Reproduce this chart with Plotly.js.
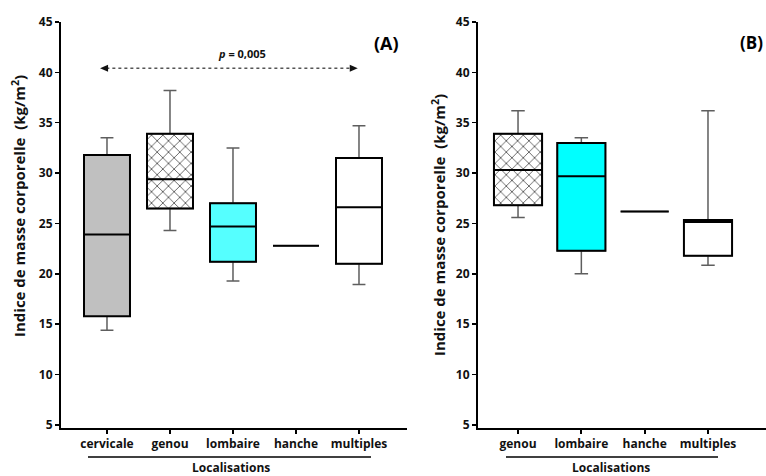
<!DOCTYPE html>
<html>
<head>
<meta charset="utf-8">
<script src="https://cdn.plot.ly/plotly-3.0.1.min.js"></script>
<style>html,body{margin:0;padding:0;background:#fff;}#chart{width:766px;height:476px;}</style>
</head>
<body>
<div id="chart"></div>
<script>
// Panel A data
var catsA = ['cervicale', 'genou', 'lombaire', 'hanche', 'multiples'];
var minA  = [14.4, 24.3, 19.3, 22.8, 18.95];
var q1A   = [15.8, 26.5, 21.2, 22.8, 21.0];
var medA  = [23.9, 29.4, 24.7, 22.8, 26.6];
var q3A   = [31.8, 33.9, 27.0, 22.8, 31.5];
var maxA  = [33.5, 38.2, 32.5, 22.8, 34.7];

// Panel B data
var catsB = ['genou', 'lombaire', 'hanche', 'multiples'];
var minB  = [25.6, 20.0, 26.2, 20.85];
var q1B   = [26.8, 22.3, 26.2, 21.8];
var medB  = [30.3, 29.7, 26.2, 25.15];
var q3B   = [33.9, 33.0, 26.2, 25.35];
var maxB  = [36.2, 33.5, 26.2, 36.2];

// p-value bracket (panel A)
var pText = '<b><i>p</i> = 0,005</b>';
var pFrom = 'cervicale', pTo = 'multiples';
var yTicks = [5, 10, 15, 20, 25, 30, 35, 40, 45];

var fillA = ['#C0C0C0', 'pattern', '#55FFFF', '#FFFFFF', '#FFFFFF'];
var fillB = ['pattern', '#00FFFF', '#FFFFFF', '#FFFFFF'];

var FONT = '"Open Sans", "Noto Sans", sans-serif';
var traces = [];

function addPanel(cats, mn, q1, md, q3, mx, fills, xa, ya, bw) {
  cats.forEach(function (c, i) {
    if (fills[i] === 'pattern') {
      traces.push({
        type: 'bar', x: [c], y: [q3[i] - q1[i]], base: [q1[i]], width: bw,
        xaxis: xa, yaxis: ya, showlegend: false, hoverinfo: 'skip',
        marker: {color: '#FFFFFF', line: {width: 0},
          pattern: {shape: 'x', fgcolor: '#000000', bgcolor: '#FFFFFF', size: 8, solidity: 0.14}}
      });
    }
  });
  cats.forEach(function (c, i) {
    traces.push({
      type: 'box', x: [c], q1: [q1[i]], median: [md[i]], q3: [q3[i]],
      lowerfence: [mn[i]], upperfence: [mx[i]], width: bw, whiskerwidth: 0.28,
      fillcolor: 'rgba(0,0,0,0)', line: {color: '#5e5e5e', width: 1.5},
      xaxis: xa, yaxis: ya, showlegend: false, hoverinfo: 'skip', boxpoints: false
    });
    traces.push({
      type: 'box', x: [c], q1: [q1[i]], median: [md[i]], q3: [q3[i]],
      lowerfence: [q1[i]], upperfence: [q3[i]], width: bw, whiskerwidth: 0,
      fillcolor: fills[i] === 'pattern' ? 'rgba(0,0,0,0)' : fills[i],
      line: {color: '#000000', width: 2},
      xaxis: xa, yaxis: ya, showlegend: false, hoverinfo: 'skip', boxpoints: false
    });
  });
}

addPanel(catsA, minA, q1A, medA, q3A, maxA, fillA, 'x', 'y', 0.73);
addPanel(catsB, minB, q1B, medB, q3B, maxB, fillB, 'x2', 'y2', 0.76);

var W = 766, H = 476;
function px(v) { return v / W; }
function py(v) { return 1 - v / H; }
function b(s) { return '<b>' + s + '</b>'; }

var tickFont = {family: FONT, size: 12, color: '#111'};
var yDom = [py(428), py(22)];

function yAxis(anchor) {
  return {
    domain: yDom, range: [4.7, 45], tickvals: yTicks, ticktext: yTicks.map(function (v) { return b(v); }),
    ticks: 'outside', ticklen: 4, tickwidth: 1.5, tickcolor: '#000', showline: true, linewidth: 2,
    linecolor: '#000', showgrid: false, zeroline: false, tickfont: tickFont, anchor: anchor, fixedrange: true
  };
}
function xAxis(dom, rng, cats, anchor) {
  return {
    domain: dom, range: rng, type: 'category', categoryorder: 'array', categoryarray: cats,
    tickvals: cats, ticktext: cats.map(b),
    ticks: 'outside', ticklen: 4, tickwidth: 2, tickcolor: '#000', showline: true,
    linewidth: 2, linecolor: '#000', showgrid: false, zeroline: false, tickfont: tickFont,
    anchor: anchor, fixedrange: true
  };
}

var iFrom = catsA.indexOf(pFrom) - 0.11, iTo = catsA.indexOf(pTo) - 0.02;
var yArrow = 40.4;
var yArrowPx = 22 + (45 - yArrow) * (406 / 40.3);
var xFromPx = 107 + 63 * iFrom, xToPx = 107 + 63 * iTo;

function tri(tipX, dir) {
  var bx = tipX + dir * 8;
  return 'M' + px(tipX) + ',' + py(yArrowPx) + ' L' + px(bx) + ',' + py(yArrowPx - 3.5) +
         ' L' + px(bx) + ',' + py(yArrowPx + 3.5) + ' Z';
}

var titleTxt = b('Indice de masse corporelle&nbsp;&nbsp;(kg/m<sup>2</sup>)');
var titleFont = {family: FONT, size: 15, color: '#111'};

var layout = {
  width: W, height: H, margin: {l: 0, r: 0, t: 0, b: 0},
  paper_bgcolor: '#fff', plot_bgcolor: 'rgba(0,0,0,0)',
  boxmode: 'overlay', barmode: 'overlay', showlegend: false,
  xaxis: xAxis([px(61), px(407)], [-0.73, 4.762], catsA, 'y'),
  yaxis: yAxis('x'),
  xaxis2: xAxis([px(478), 1], [-0.632, 3.916], catsB, 'y2'),
  yaxis2: yAxis('x2'),
  shapes: [
    {type: 'line', xref: 'x', yref: 'y', x0: iFrom + 0.1, x1: iTo - 0.1, y0: yArrow, y1: yArrow,
     line: {color: '#555', width: 1.5, dash: 'dot'}},
    {type: 'path', xref: 'paper', yref: 'paper', path: tri(xFromPx, 1), fillcolor: '#111', line: {width: 0}},
    {type: 'path', xref: 'paper', yref: 'paper', path: tri(xToPx, -1), fillcolor: '#111', line: {width: 0}},
    {type: 'line', xref: 'paper', yref: 'paper', x0: px(88), x1: px(371), y0: py(457), y1: py(457),
     line: {color: '#000', width: 1.5}},
    {type: 'line', xref: 'paper', yref: 'paper', x0: px(506), x1: px(718), y0: py(457), y1: py(457),
     line: {color: '#000', width: 1.5}}
  ],
  annotations: [
    {xref: 'paper', yref: 'paper', x: px(242), y: py(53), text: pText, showarrow: false,
     xanchor: 'center', yanchor: 'middle', font: {family: FONT, size: 11, color: '#111'}},
    {xref: 'paper', yref: 'paper', x: px(372), y: py(42.5), text: b('(A)'), showarrow: false,
     xanchor: 'left', yanchor: 'middle', font: {family: FONT, size: 18, color: '#000'}},
    {xref: 'paper', yref: 'paper', x: px(765), y: py(42.5), text: b('(B)'), showarrow: false,
     xanchor: 'right', yanchor: 'middle', font: {family: FONT, size: 17, color: '#000'}},
    {xref: 'paper', yref: 'paper', x: px(18), y: py(206), text: titleTxt, textangle: -90,
     showarrow: false, xanchor: 'center', yanchor: 'middle', font: titleFont},
    {xref: 'paper', yref: 'paper', x: px(438), y: py(225), text: titleTxt, textangle: -90,
     showarrow: false, xanchor: 'center', yanchor: 'middle', font: titleFont},
    {xref: 'paper', yref: 'paper', x: px(231), y: py(467), text: b('Localisations'), showarrow: false,
     xanchor: 'center', yanchor: 'middle', font: {family: FONT, size: 12, color: '#111'}},
    {xref: 'paper', yref: 'paper', x: px(611), y: py(467), text: b('Localisations'), showarrow: false,
     xanchor: 'center', yanchor: 'middle', font: {family: FONT, size: 12, color: '#111'}}
  ]
};

Plotly.newPlot('chart', traces, layout, {displayModeBar: false, staticPlot: true});
</script>
</body>
</html>
